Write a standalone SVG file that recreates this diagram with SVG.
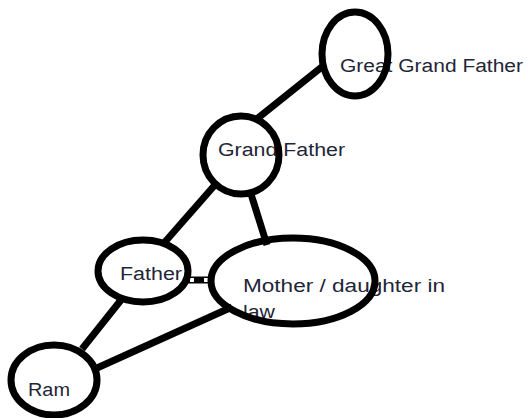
<svg xmlns="http://www.w3.org/2000/svg" width="528" height="418" viewBox="0 0 528 418">
<style>
.lbl{font-family:"Liberation Sans",Arial,sans-serif;font-size:18px;fill:#1f2638;}
.node{fill:none;stroke:#000;stroke-width:7;}
.edge{stroke:#000;stroke-width:7;stroke-linecap:butt;}
.handle{fill:#fff;stroke:#000;stroke-width:1;}
</style>
<rect width="528" height="418" fill="#fff"/>
<g id="edges">
<line class="edge" x1="258" y1="118" x2="323" y2="66"/>
<line class="edge" x1="214" y1="186" x2="164" y2="243"/>
<line class="edge" x1="251" y1="194" x2="267" y2="245"/>
<line class="edge" x1="121" y1="300" x2="82" y2="349"/>
<line class="edge" x1="232" y1="307" x2="97" y2="368"/>
<line class="edge" x1="187" y1="280" x2="210" y2="280"/>
<rect class="handle" x="189.5" y="277.5" width="5" height="5"/>
<rect class="handle" x="203.5" y="277.5" width="5" height="5"/>
</g>
<g id="great-grand-father">
<text class="lbl" x="340" y="72" textLength="183" lengthAdjust="spacingAndGlyphs">Great Grand Father</text>
<ellipse class="node" cx="355" cy="54" rx="33" ry="42"/>
</g>
<g id="grand-father">
<text class="lbl" x="218" y="156" textLength="127" lengthAdjust="spacingAndGlyphs">Grand Father</text>
<ellipse class="node" cx="241" cy="155" rx="38" ry="39"/>
</g>
<g id="father">
<text class="lbl" x="120" y="280" textLength="62" lengthAdjust="spacingAndGlyphs">Father</text>
<ellipse class="node" cx="143" cy="271" rx="45" ry="31"/>
</g>
<g id="mother">
<text class="lbl" x="243" y="292" textLength="202" lengthAdjust="spacingAndGlyphs">Mother / daughter in</text>
<text class="lbl" x="243" y="318" textLength="32" lengthAdjust="spacingAndGlyphs">law</text>
<ellipse class="node" cx="293" cy="281" rx="82" ry="43"/>
</g>
<g id="ram">
<text class="lbl" x="28" y="396" textLength="42" lengthAdjust="spacingAndGlyphs">Ram</text>
<ellipse class="node" cx="54" cy="380" rx="43" ry="35"/>
</g>
</svg>
